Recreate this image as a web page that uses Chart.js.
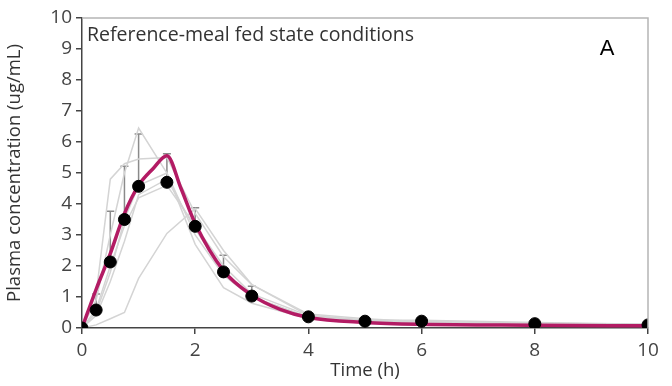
<!DOCTYPE html>
<html>
<head>
<meta charset="utf-8">
<script src="https://cdn.jsdelivr.net/npm/chart.js@4"></script>
<style>
  html, body { margin: 0; padding: 0; background: #fff; }
  #wrap { width: 672px; height: 386px; }
</style>
</head>
<body>
<div id="wrap"><canvas id="pk"></canvas></div>
<script>
const times = [0, 0.25, 0.5, 0.75, 1, 1.5, 2, 2.5, 3, 4, 5, 6, 8, 10]
const meanConc = [0, 0.58, 2.13, 3.5, 4.57, 4.7, 3.28, 1.81, 1.03, 0.36, 0.22, 0.22, 0.14, 0.1]
const sdUpper = [0, 1.1, 3.77, 5.22, 6.26, 5.62, 3.88, 2.35, 1.35, 0.42, 0.26, 0.26, 0.17, 0.12]

// individual subjects
const subj1 = [0, 0.9, 3.0, 5.0, 6.45, 5.0, 3.0, 1.7, 1.0, 0.35, 0.2, 0.15, 0.1, 0.08]
const subj2 = [0, 1.1, 4.8, 5.3, 5.45, 5.5, 3.7, 2.3, 1.4, 0.4, 0.25, 0.2, 0.15, 0.1]
const subj3 = [0, 0.1, 0.3, 0.5, 1.6, 3.05, 3.85, 2.5, 1.4, 0.45, 0.3, 0.2, 0.15, 0.12]
const subj4 = [0, 0.5, 1.8, 3.5, 4.6, 5.0, 2.7, 1.3, 0.8, 0.3, 0.2, 0.15, 0.1, 0.08]
const subj5 = [0, 0.4, 1.5, 2.8, 4.3, 4.8, 3.2, 1.8, 1.0, 0.35, 0.2, 0.2, 0.12, 0.1]
const subj6 = [0, 0.6, 2.0, 3.3, 4.2, 4.6, 3.3, 2.0, 1.1, 0.4, 0.25, 0.25, 0.18, 0.12]
const subjects = [subj1, subj2, subj3, subj4, subj5, subj6]

// model prediction
const modelTimes = [0, 0.25, 0.5, 0.75, 1, 1.25, 1.5, 1.75, 2, 2.5, 3, 3.5, 4, 5, 6, 8, 10]
const modelConc = [0, 1.25, 2.4, 3.69, 4.6, 5.13, 5.56, 4.5, 3.37, 1.85, 1.06, 0.6, 0.34, 0.18, 0.12, 0.09, 0.07]

const xTicks = [0, 2, 4, 6, 8, 10]
const yTicks = [0, 1, 2, 3, 4, 5, 6, 7, 8, 9, 10]

const pairs = (xs, ys) => xs.map((x, i) => ({x: x, y: ys[i]}))

const datasets = []
subjects.forEach(s => {
  datasets.push({
    data: pairs(times, s),
    borderColor: '#d4d4d4',
    borderWidth: 1.5,
    pointRadius: 0,
    tension: 0,
    order: 3
  })
})
datasets.push({
  data: pairs(modelTimes, modelConc),
  borderColor: '#b31b64',
  borderWidth: 3.5,
  pointRadius: 0,
  cubicInterpolationMode: 'monotone',
  order: 1
})
datasets.push({
  type: 'scatter',
  data: pairs(times, meanConc),
  backgroundColor: '#000',
  borderColor: '#000',
  pointRadius: 6,
  showLine: false,
  order: 0
})

const extras = {
  id: 'extras',
  beforeDatasetsDraw(chart) {
    const {ctx, chartArea, scales} = chart
    ctx.save()
    // error bars (upper)
    ctx.strokeStyle = '#8a8a8a'
    ctx.lineWidth = 1.5
    times.forEach((t, i) => {
      if (sdUpper[i] - meanConc[i] < 0.15) return
      const x = scales.x.getPixelForValue(t)
      const y0 = scales.y.getPixelForValue(meanConc[i])
      const y1 = scales.y.getPixelForValue(sdUpper[i])
      ctx.beginPath()
      ctx.moveTo(x, y0); ctx.lineTo(x, y1)
      ctx.moveTo(x - 4, y1); ctx.lineTo(x + 4, y1)
      ctx.stroke()
    })
    ctx.restore()
  },
  afterDraw(chart) {
    const {ctx, chartArea} = chart
    ctx.save()
    ctx.strokeStyle = '#b5b5b5'
    ctx.lineWidth = 1.5
    ctx.beginPath()
    ctx.moveTo(chartArea.left, chartArea.top)
    ctx.lineTo(chartArea.right, chartArea.top)
    ctx.lineTo(chartArea.right, chartArea.bottom)
    ctx.stroke()
    ctx.fillStyle = '#333'
    ctx.font = '19.5px "Open Sans", sans-serif'
    ctx.textBaseline = 'middle'
    ctx.fillText('Reference-meal fed state conditions', chartArea.left + 5, chartArea.top + 17)
    ctx.fillStyle = '#000'
    ctx.font = '22px "Liberation Sans", Arial, sans-serif'
    ctx.textAlign = 'center'
    ctx.fillText('A', 607, 49)
    ctx.restore()
  }
}

new Chart('pk', {
  type: 'line',
  data: {datasets: datasets},
  options: {
    responsive: true,
    maintainAspectRatio: false,
    animation: false,
    layout: {padding: {top: 18, right: 24, left: 0, bottom: 0}},
    plugins: {legend: {display: false}, tooltip: {enabled: false}},
    scales: {
      x: {
        type: 'linear',
        min: 0, max: 10,
        afterBuildTicks: s => { s.ticks = xTicks.map(v => ({value: v})) },
        afterFit: s => { s.height = 58 },
        grid: {drawOnChartArea: false, drawTicks: true, tickLength: 6, color: '#444', lineWidth: 1.5},
        border: {color: '#444', width: 1.5},
        ticks: {color: '#444', font: {family: 'Open Sans', size: 19}, padding: 5, maxRotation: 0},
        title: {display: true, text: 'Time (h)', color: '#333', font: {family: 'Open Sans', size: 18.5}, padding: {top: -12}}
      },
      y: {
        min: 0, max: 10,
        afterBuildTicks: s => { s.ticks = yTicks.map(v => ({value: v})) },
        afterFit: s => { s.width = 82 },
        grid: {drawOnChartArea: false, drawTicks: true, tickLength: 6, color: '#444', lineWidth: 1.5},
        border: {color: '#444', width: 1.5},
        ticks: {color: '#444', font: {family: 'Open Sans', size: 19}, padding: 4},
        title: {display: true, text: 'Plasma concentration (ug/mL)', color: '#333', font: {family: 'Open Sans', size: 18.5}, padding: {bottom: 0}}
      }
    }
  },
  plugins: [extras]
})
</script>
</body>
</html>
